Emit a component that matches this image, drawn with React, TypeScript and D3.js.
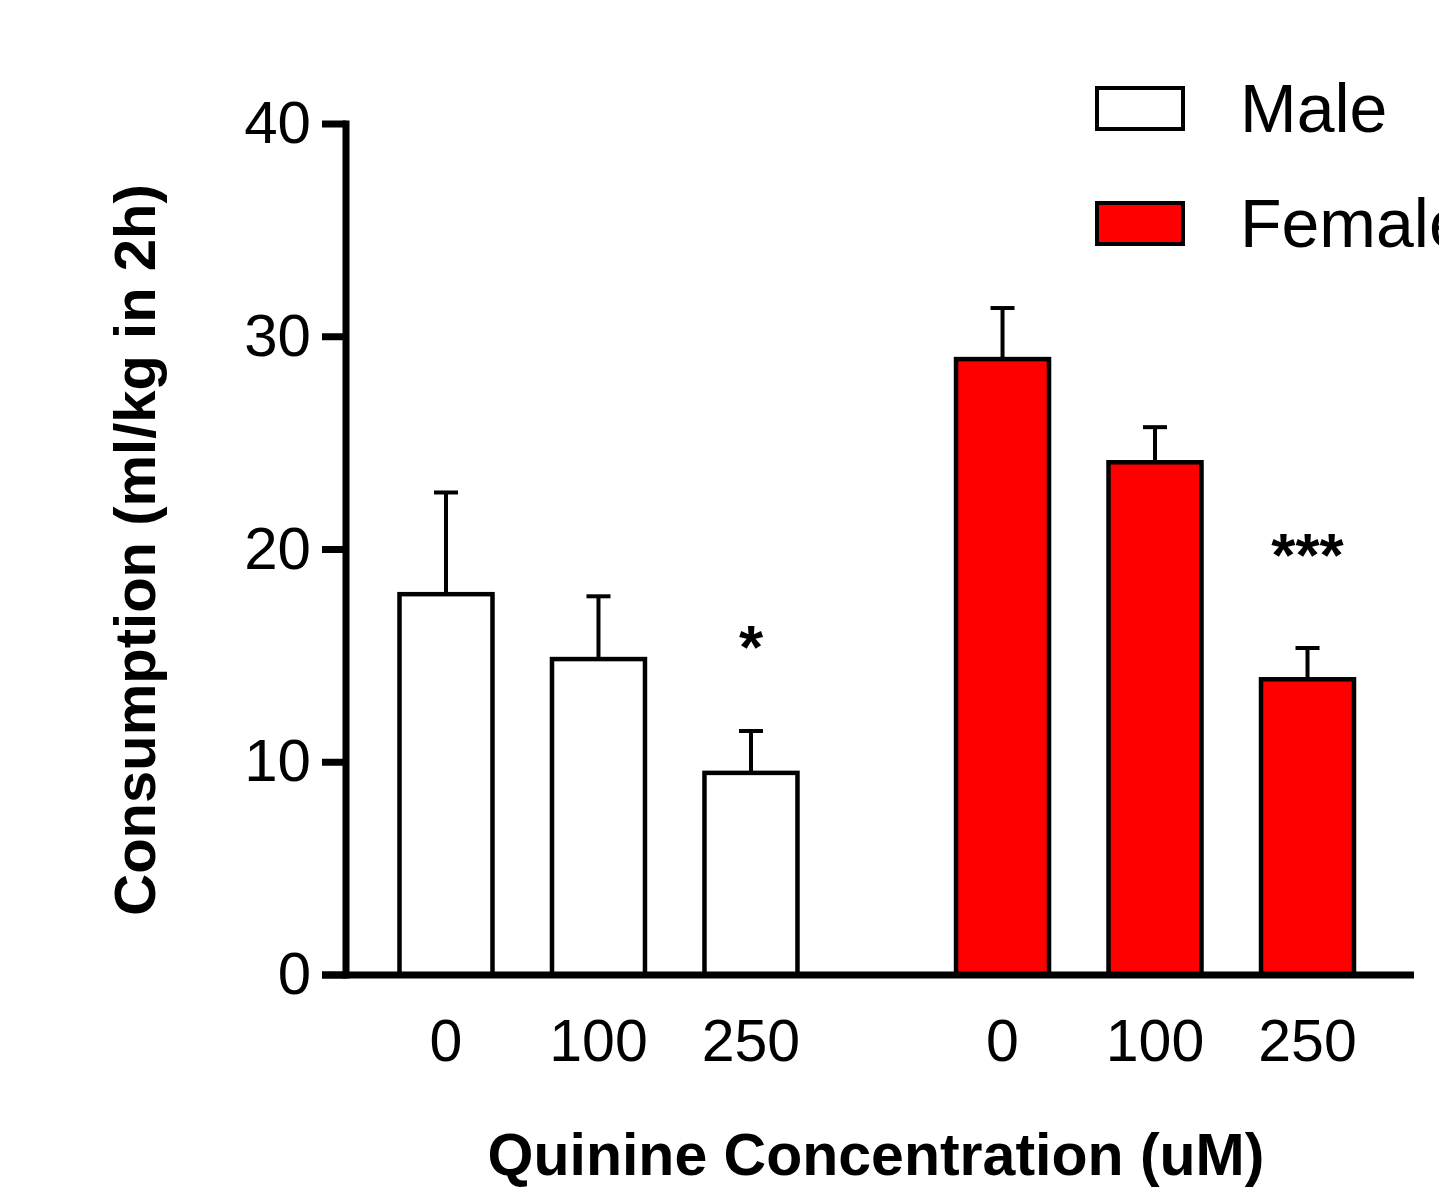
import React, { useRef, useEffect } from 'react'
import * as d3 from 'd3'

const groups = ['Male', 'Female']
const concentrations = ['0', '100', '250']
const maleMeans = [17.9, 14.85, 9.5]
const maleSem = [4.78, 2.95, 1.97]
const femaleMeans = [28.95, 24.1, 13.9]
const femaleSem = [2.4, 1.65, 1.47]
const yTicks = [0, 10, 20, 30, 40]
const stars = [['', '', '*'], ['', '', '***']]
// baseline of the significance marks, in y units
const starLevels = [[0, 0, 14.45], [0, 0, 18.75]]
const fills = ['#ffffff', '#ff0000']

const font = "'Liberation Sans', Arial, sans-serif"

const App = () => {
  const svgRef = useRef<SVGSVGElement>(null)

  useEffect(() => {
    const w = 1439
    const h = 1187
    const svg = d3.select(svgRef.current)
    svg.selectAll('*').remove()
    svg.attr('width', w).attr('height', h).style('background', '#fff')

    const y = d3.scaleLinear().domain([0, 40]).range([975, 124])
    const x0 = d3.scaleBand().domain(groups).range([369.75, 1383.75]).paddingInner(0.178)
    const x1 = d3.scaleBand().domain(concentrations).range([0, x0.bandwidth()])
      .paddingInner(0.364).paddingOuter(0.182)

    const series = [maleMeans, femaleMeans]
    const sems = [maleSem, femaleSem]

    const rows = groups.flatMap((g, gi) => concentrations.map((c, ci) => ({
      g, c, gi, mean: series[gi][ci], sem: sems[gi][ci],
      star: stars[gi][ci], starLevel: starLevels[gi][ci],
      x: (x0(g) as number) + (x1(c) as number)
    })))

    const bw = x1.bandwidth()

    // error bars (drawn first, only upward)
    const err = svg.append('g').attr('stroke', '#000').attr('stroke-width', 4)
    rows.forEach(d => {
      const cx = d.x + bw / 2
      err.append('line').attr('x1', cx).attr('x2', cx).attr('y1', y(d.mean)).attr('y2', y(d.mean + d.sem))
      err.append('line').attr('x1', cx - 12).attr('x2', cx + 12).attr('y1', y(d.mean + d.sem)).attr('y2', y(d.mean + d.sem))
    })

    // bars
    svg.append('g').selectAll('rect').data(rows).join('rect')
      .attr('x', d => d.x + 2)
      .attr('width', bw - 4)
      .attr('y', d => y(d.mean))
      .attr('height', d => y(0) - y(d.mean))
      .attr('fill', d => fills[d.gi])
      .attr('stroke', '#000')
      .attr('stroke-width', 4.5)

    // significance stars
    svg.append('g').selectAll('text').data(rows.filter(d => d.star)).join('text')
      .attr('x', d => d.x + bw / 2)
      .attr('y', d => y(d.starLevel))
      .attr('text-anchor', 'middle')
      .attr('font-family', font)
      .attr('font-weight', 'bold')
      .attr('font-size', 62)
      .text(d => d.star)

    // y axis
    svg.append('line').attr('x1', 346).attr('x2', 346).attr('y1', 120.5).attr('y2', 978.5)
      .attr('stroke', '#000').attr('stroke-width', 7)
    const yt = svg.append('g')
    yTicks.forEach(t => {
      yt.append('line').attr('x1', 322).attr('x2', 346).attr('y1', y(t)).attr('y2', y(t))
        .attr('stroke', '#000').attr('stroke-width', 7)
      yt.append('text').attr('x', 311).attr('y', y(t) + 19)
        .attr('text-anchor', 'end').attr('font-family', font).attr('font-size', 60)
        .text(t)
    })

    // x axis
    svg.append('line').attr('x1', 322).attr('x2', 1414).attr('y1', y(0)).attr('y2', y(0))
      .attr('stroke', '#000').attr('stroke-width', 7)
    svg.append('g').selectAll('text').data(rows).join('text')
      .attr('x', d => d.x + bw / 2)
      .attr('y', 1061)
      .attr('text-anchor', 'middle')
      .attr('font-family', font)
      .attr('font-size', 59)
      .text(d => d.c)

    // axis titles
    svg.append('text').attr('x', 876).attr('y', 1175)
      .attr('text-anchor', 'middle').attr('font-family', font).attr('font-weight', 'bold')
      .attr('font-size', 59).text('Quinine Concentration (uM)')
    svg.append('text').attr('transform', 'translate(155,550) rotate(-90)')
      .attr('text-anchor', 'middle').attr('font-family', font).attr('font-weight', 'bold')
      .attr('font-size', 58).text('Consumption (ml/kg in 2h)')

    // legend
    const lg = svg.append('g')
    groups.forEach((g, i) => {
      lg.append('rect').attr('x', 1097).attr('y', 88 + i * 115).attr('width', 86).attr('height', 41)
        .attr('fill', fills[i]).attr('stroke', '#000').attr('stroke-width', 4)
      lg.append('text').attr('x', 1240).attr('y', 132 + i * 115)
        .attr('font-family', font).attr('font-size', 68).text(g)
    })
  }, [])

  return (
    <div style={{ position: 'absolute', left: 0, top: 0 }}>
      <svg ref={svgRef}></svg>
    </div>
  )
}

export default App
